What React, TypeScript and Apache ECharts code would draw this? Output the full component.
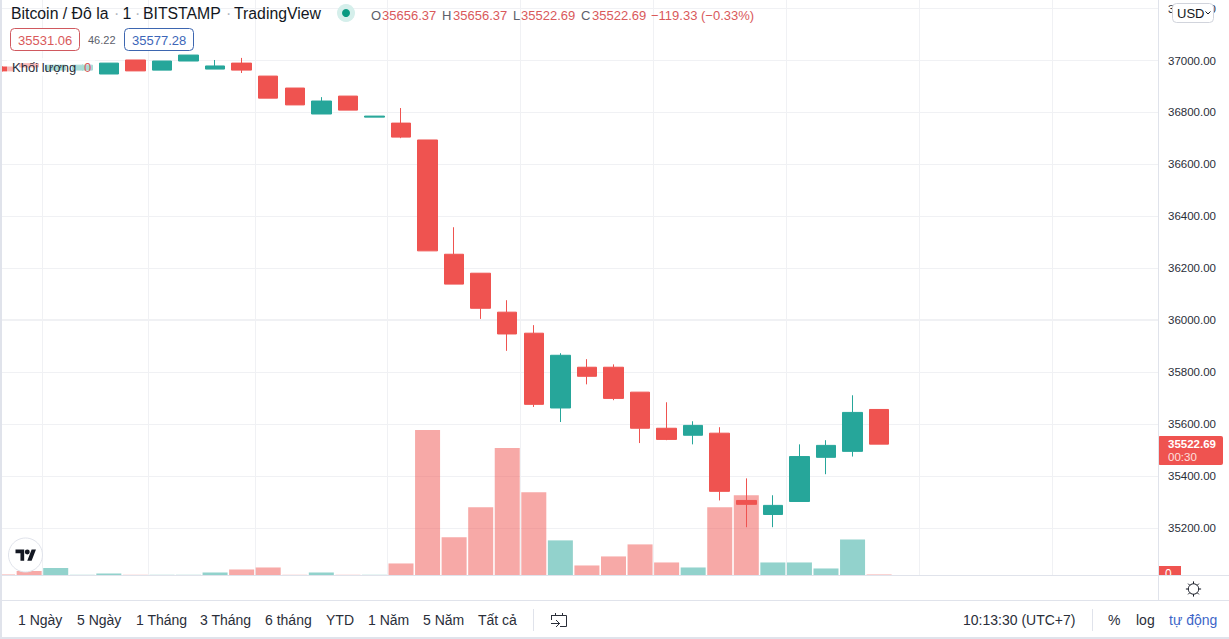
import React, { useEffect, useRef } from "react";
import * as echarts from "echarts";

const categories = ["09:37","09:38","09:40","09:41","09:43","09:45","09:46","09:47","09:48","09:49","09:50","09:51","09:52","09:53","09:54","09:55","09:56","09:57","09:58","09:59","10:00","10:01","10:02","10:03","10:04","10:05","10:06","10:07","10:08","10:09","10:10","10:11","10:12","10:13","10:14","10:15","10:16","10:17","10:18","10:19","10:20","10:21","10:22","10:23"];
const tickLabels = ["09:40","09:46","09:50","09:55","10:00","10:05","10:10","10:15","10:20"];
const priceTicks = [35200,35400,35600,35800,36000,36200,36400,36600,36800,37000,37200];

// open, close, low, high
const candles = [
  [36975,36960,36958,36977],[36988,36975,36972,36990],[36963,36982,36960,36985],[36963,36982,36960,36985],
  [36948,36990,36948,36990],[37002,36960,36960,37002],[36963,36998,36963,36998],[36998,37021,36998,37021],
  [36967,36979,36967,37002],[36990,36963,36952,37010],[36940,36855,36855,36940],[36894,36829,36829,36894],
  [36794,36844,36794,36859],[36863,36809,36809,36863],[36782,36786,36782,36786],[36759,36705,36701,36817],
  [36694,36267,36267,36694],[36254,36139,36139,36358],[36181,36046,36005,36181],[36031,35947,35882,36077],
  [35950,35676,35666,35981],[35662,35865,35608,35873],[35819,35784,35753,35850],[35819,35699,35692,35830],
  [35723,35584,35527,35723],[35584,35541,35538,35684],[35557,35595,35522,35611],[35565,35341,35306,35588],
  [35306,35291,35203,35391],[35252,35287,35203,35326],[35302,35475,35302,35522],[35472,35518,35407,35538],
  [35495,35645,35475,35711],[35656.37,35522.69,35522.69,35656.37],
];
const volumes = [1,4.5,7.5,0.7,2,0.7,0.7,0.7,3,6,8,0.7,3,0.7,0.7,12,145,38,68,127,83,35,10,19,31,13,8,68,80,13,13,7,36,1];

const titleParts: [string, number, string][] = [["Bitcoin / Đô la",11,"#131722"],["·",114,"#b2b5be"],["1",122.5,"#131722"],["·",135,"#b2b5be"],["BITSTAMP",143,"#131722"],["·",226,"#b2b5be"],["TradingView",234,"#131722"]];
const ohlcParts: [string, number, string][] = [["O",371,"#5d606b"],["35656.37",382,"#d9595b"],["H",442,"#5d606b"],["35656.37",453,"#d9595b"],["L",513,"#5d606b"],["35522.69",521,"#d9595b"],["C",581,"#5d606b"],["35522.69",592,"#d9595b"],["−119.33 (−0.33%)",651,"#d9595b"]];
const rangeButtons: [string, number][] = [["1 Ngày",18],["5 Ngày",77],["1 Tháng",136],["3 Tháng",200],["6 tháng",265],["YTD",326],["1 Năm",368],["5 Năm",423],["Tất cả",478]];

const FONT = '"Liberation Sans", Arial, sans-serif';
const RED = "#ef5350", TEAL = "#26a69a", LINE = "#e0e3eb", GRID = "#f0f1f4";

echarts.graphic.registerShape("tvlogo", echarts.graphic.extendPath("M14 18H8V6H0V0h14v18zM26 18h-7l7-18h7l-7 18zM19 0a4 4 0 1 1 0 8 4 4 0 0 1 0-8z" as any, {}) as any);

const txt = (text: string, x: number, y: number, fontSize: number, fill: string, extra: any = {}, z = 50) => ({
  type: "text", x, y, z, silent: true,
  style: { text, fontSize, fill, fontFamily: FONT, verticalAlign: "middle", align: "left", ...extra },
});
const box = (x: number, y: number, width: number, height: number, fill: string, stroke?: string, r = 0, z = 40) => ({
  type: "rect", z, silent: true, shape: { x, y, width, height, r },
  style: { fill, stroke: stroke ?? "none", lineWidth: 1 },
});
const ln = (x1: number, y1: number, x2: number, y2: number, stroke = LINE, z = 45, lineWidth = 1) => ({
  type: "line", z, silent: true, shape: { x1, y1, x2, y2 }, style: { stroke, lineWidth },
});

function graphics() {
  const g: any[] = [];
  // footer panels
  g.push(box(0, 575.5, 1229, 64, "#ffffff", undefined, 0, 38));
  g.push(box(1158, 566, 23, 9.5, RED, undefined, 0, 36));
  g.push(txt("0", 1165, 574, 12, "#ffffff", {}, 37));
  g.push(ln(0, 575.5, 1229, 575.5), ln(0, 600.5, 1229, 600.5), ln(1158.5, 0, 1158.5, 600.5));
  g.push(box(0, 0, 2, 639, LINE, undefined, 0, 60), box(0, 637, 1229, 2, LINE, undefined, 0, 60));
  // legend
  titleParts.forEach(([t, x, c]) => g.push(txt(t, x, 13, 15.8, c)));
  g.push({ type: "circle", z: 50, silent: true, shape: { cx: 346, cy: 13, r: 9 }, style: { fill: "#d5efeb" } });
  g.push({ type: "circle", z: 51, silent: true, shape: { cx: 346, cy: 13, r: 4 }, style: { fill: "#089981" } });
  ohlcParts.forEach(([t, x, c]) => g.push(txt(t, x, 15, 13, c)));
  g.push(box(10.5, 28.5, 69, 22, "#ffffff", "#d0595f", 4));
  g.push(txt("35531.06", 18, 40, 13, "#d9595b"));
  g.push(txt("46.22", 88, 40, 11, "#5d606b"));
  g.push(box(124.5, 28.5, 69, 22, "#ffffff", "#3d66b0", 4));
  g.push(txt("35577.28", 132, 40, 13, "#3d66b8"));
  g.push(box(7, 58, 88, 18, "rgba(255,255,255,0.6)", undefined, 0, 40));
  g.push(txt("Khối lượng", 12, 67, 13, "#2a2e39"));
  g.push(txt("0", 84, 67, 13, "#d9595b"));
  // scale widgets
  g.push(box(1172.5, 3.5, 41, 19, "#ffffff", "#d1d4dc", 4));
  g.push(txt("USD", 1177, 13, 13, "#131722"));
  g.push({ type: "polyline", z: 50, silent: true, shape: { points: [[1205.5, 11.5], [1208, 14], [1210.5, 11.5]] }, style: { stroke: "#131722", lineWidth: 1, fill: "none" } });
  g.push(box(1158, 436, 65, 29, RED, undefined, 2));
  g.push(txt("35522.69", 1168, 444, 11.5, "#ffffff", { fontWeight: "bold" }));
  g.push(txt("00:30", 1168, 457, 11.5, "#fde0df"));
  // logo
  g.push({ type: "circle", z: 50, silent: true, shape: { cx: 25.5, cy: 555, r: 17 }, style: { fill: "#ffffff", stroke: LINE, lineWidth: 1 } });
  g.push({ type: "tvlogo", z: 51, silent: true, x: 15.5, y: 549.5, scaleX: 0.62, scaleY: 0.62, style: { fill: "#131722" } });
  // sun
  g.push({ type: "circle", z: 50, silent: true, shape: { cx: 1193.5, cy: 589, r: 5.2 }, style: { fill: "#fff", stroke: "#131722", lineWidth: 1 } });
  for (let i = 0; i < 8; i++) {
    const a = (i * Math.PI) / 4;
    g.push(ln(1193.5 + Math.cos(a) * 5.2, 589 + Math.sin(a) * 5.2, 1193.5 + Math.cos(a) * 7.6, 589 + Math.sin(a) * 7.6, "#131722", 50));
  }
  // toolbar
  rangeButtons.forEach(([t, x]) => g.push(txt(t, x, 620, 14, "#2a2e39")));
  g.push(ln(533.5, 609, 533.5, 631), ln(1092.5, 609, 1092.5, 631));
  g.push(txt("10:13:30 (UTC+7)", 963, 620, 14, "#2a2e39"));
  g.push(txt("%", 1108, 620, 14, "#2a2e39"), txt("log", 1136, 620, 14, "#2a2e39"), txt("tự động", 1169, 620, 14, "#3d66c8"));
  // date-range icon
  const ic = "#2a2e39";
  g.push(ln(551, 615.5, 566.5, 615.5, ic, 50), ln(555.5, 613, 555.5, 615.5, ic, 50), ln(562.5, 613, 562.5, 615.5, ic, 50));
  g.push(ln(566.5, 615.5, 566.5, 626.5, ic, 50), ln(560, 626.5, 566.5, 626.5, ic, 50), ln(551.5, 615.5, 551.5, 620, ic, 50));
  g.push(ln(551, 623.5, 560, 623.5, ic, 50));
  g.push({ type: "polyline", z: 50, silent: true, shape: { points: [[556, 620], [559.5, 623.5], [556, 627]] }, style: { stroke: ic, lineWidth: 1, fill: "none" } });
  return g;
}

export default function App() {
  const ref = useRef<HTMLDivElement>(null);
  useEffect(() => {
    const chart = echarts.init(ref.current!, undefined, { renderer: "svg" });
    const showTick = (_: number, v: string) => tickLabels.includes(v);
    chart.setOption({
      animation: false,
      backgroundColor: "#ffffff",
      grid: [
        { left: -10.7, width: 1168.7, top: 0, height: 575.5, outerBoundsMode: "none" },
        { left: -10.7, width: 1168.7, top: 430, height: 145.5, outerBoundsMode: "none" },
      ],
      xAxis: [
        { type: "category", gridIndex: 0, data: categories, boundaryGap: true,
          axisLine: { show: false }, axisTick: { show: false }, axisLabel: { show: false },
          splitLine: { show: true, interval: showTick, lineStyle: { color: GRID, width: 1 } } },
        { type: "category", gridIndex: 1, data: categories, boundaryGap: true,
          axisLine: { show: false }, axisTick: { show: false },
          axisLabel: { show: true, interval: showTick, margin: 7, fontSize: 12, color: "#2a2e39", fontFamily: FONT, hideOverlap: false },
          splitLine: { show: false } },
      ],
      yAxis: [
        { type: "value", gridIndex: 0, position: "right", min: 35017, max: 37233, scale: true,
          axisLine: { show: false },
          axisTick: { show: false, customValues: priceTicks },
          axisLabel: { show: true, customValues: priceTicks, margin: 10, fontSize: 11.5, color: "#2a2e39", fontFamily: FONT,
            formatter: (v: number) => v.toFixed(2), showMinLabel: true, showMaxLabel: true },
          splitLine: { show: true, lineStyle: { color: GRID, width: 1 } } },
        { type: "value", gridIndex: 1, min: 0, max: 145, show: false, splitLine: { show: false } },
      ],
      series: [
        { type: "bar", name: "Khối lượng", xAxisIndex: 1, yAxisIndex: 1, barWidth: 25, z: 2,
          data: volumes.map((v, i) => ({
            value: v,
            itemStyle: { color: candles[i][1] >= candles[i][0] ? "rgba(38,166,154,0.5)" : "rgba(239,83,80,0.5)" },
          })) },
        { type: "candlestick", name: "BTC", xAxisIndex: 0, yAxisIndex: 0, barWidth: 20, z: 3, clip: true,
          data: candles,
          itemStyle: { color: TEAL, color0: RED, borderColor: TEAL, borderColor0: RED, borderWidth: 1 },
          markLine: { silent: true, symbol: "none", label: { show: false }, z: 1,
            lineStyle: { color: GRID, width: 2, type: "solid" },
            data: [{ yAxis: 36000 }] } },
      ],
      graphic: { elements: graphics() },
    });
    return () => chart.dispose();
  }, []);
  return <div ref={ref} style={{ position: "fixed", left: 0, top: 0, width: 1229, height: 639 }} />;
}
